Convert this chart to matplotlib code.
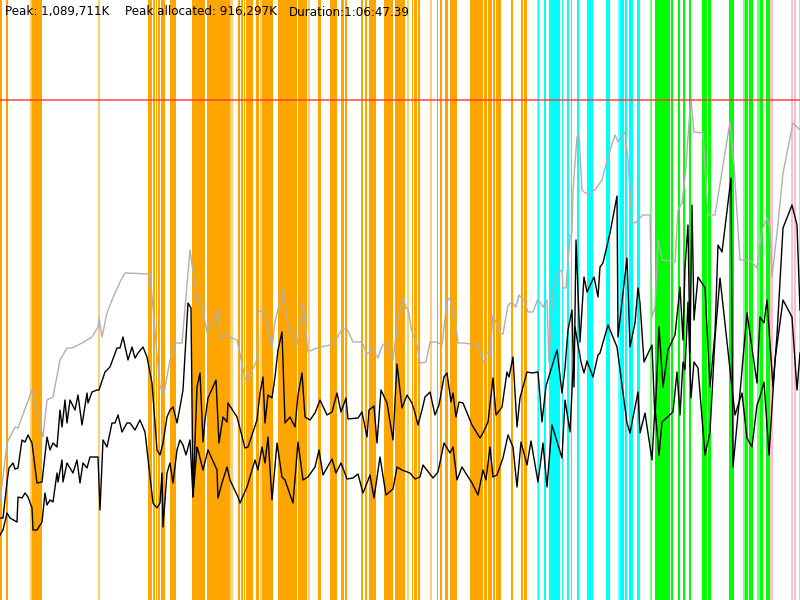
import numpy as np
import matplotlib
matplotlib.use('Agg')
import matplotlib.pyplot as plt

# memory timeline, time in sample units, memory in chart units (red line = peak)
peak_level = 500

# gray: peak memory per sample
peak_t = [0, 7, 15, 18, 22, 32, 43, 47, 53, 60, 67, 72, 82, 92, 98, 99, 102, 107, 112, 120,
          125, 150, 160, 164, 170, 175, 182, 190, 197, 201, 207, 218, 220, 225, 237, 245, 248, 257, 258, 263,
          268, 272, 275, 283, 288, 297, 303, 308, 317, 330, 337, 342, 347, 353, 362, 367, 372, 378, 382, 385,
          393, 398, 403, 406, 408, 412, 417, 420, 426, 430, 437, 442, 447, 450, 453, 455, 458, 463, 478, 482,
          484, 487, 490, 493, 500, 503, 508, 512, 516, 519, 524, 528, 533, 538, 543, 547, 549, 553, 558, 562,
          563, 566, 570, 572, 573, 577, 579, 582, 584, 588, 595, 602, 608, 615, 618, 625, 628, 632, 635, 643,
          650, 652, 655, 658, 662, 675, 678, 682, 686, 689, 691, 694, 703, 708, 715, 719, 730, 734, 740, 750,
          757, 762, 767, 770, 772, 777, 783, 793, 798, 800]
peak_mem = [99, 157, 173, 172, 183, 210, 163, 200, 203, 240, 252, 252, 257, 263, 273, 282, 263, 287, 300, 318,
            327, 326, 213, 207, 240, 257, 257, 350, 300, 300, 268, 290, 262, 265, 260, 222, 220, 240, 288, 290,
            275, 252, 278, 312, 275, 255, 297, 248, 252, 255, 262, 271, 271, 258, 258, 246, 251, 242, 254, 257,
            240, 280, 303, 292, 291, 268, 255, 237, 238, 258, 258, 255, 299, 302, 285, 282, 257, 257, 255, 240,
            238, 247, 245, 285, 267, 266, 295, 298, 293, 305, 300, 288, 288, 301, 293, 300, 238, 310, 328, 330,
            312, 312, 363, 367, 410, 463, 465, 410, 408, 406, 410, 420, 443, 465, 458, 468, 440, 378, 377, 385,
            385, 283, 293, 360, 340, 338, 390, 397, 433, 477, 500, 468, 467, 385, 385, 410, 478, 435, 340, 340,
            332, 370, 382, 373, 323, 367, 427, 477, 472, 470]

# black: upper series
upper_t = [0, 3, 7, 9, 13, 15, 18, 22, 25, 28, 32, 37, 42, 47, 50, 53, 57, 60, 62, 65,
           67, 70, 75, 78, 82, 87, 88, 92, 97, 99, 105, 110, 117, 120, 123, 128, 132, 135, 138, 143,
           147, 152, 157, 160, 163, 167, 170, 173, 177, 180, 183, 188, 191, 193, 197, 200, 203, 205, 208, 216,
           219, 223, 227, 228, 237, 245, 248, 257, 260, 263, 265, 268, 272, 275, 278, 282, 285, 290, 295, 298,
           302, 305, 310, 315, 320, 327, 332, 337, 341, 346, 348, 358, 362, 367, 369, 374, 377, 381, 387, 393,
           397, 402, 407, 412, 415, 418, 422, 425, 430, 435, 439, 444, 447, 451, 453, 456, 459, 463, 472, 480,
           483, 488, 493, 496, 502, 507, 509, 513, 517, 520, 527, 532, 538, 542, 546, 553, 557, 562, 565, 568,
           572, 574, 576, 580, 584, 587, 594, 598, 600, 603, 610, 617, 618, 627, 630, 635, 638, 640, 644, 652,
           655, 659, 663, 668, 675, 680, 683, 685, 688, 690, 692, 694, 698, 705, 710, 715, 718, 722, 731, 733,
           740, 747, 757, 760, 764, 767, 773, 777, 783, 792, 797, 800]
upper_mem = [82, 82, 118, 132, 137, 131, 132, 160, 158, 165, 157, 117, 118, 163, 150, 157, 153, 190, 173, 200,
             177, 200, 190, 205, 175, 207, 197, 208, 210, 210, 228, 233, 252, 252, 263, 240, 253, 242, 247, 253,
             243, 217, 150, 145, 157, 183, 190, 193, 177, 193, 210, 297, 292, 103, 213, 227, 158, 180, 202, 220,
             157, 183, 178, 197, 183, 152, 153, 180, 207, 223, 177, 205, 202, 223, 250, 268, 177, 183, 173, 205,
             227, 183, 180, 187, 200, 185, 188, 207, 188, 202, 181, 182, 188, 163, 190, 194, 157, 210, 197, 160,
             236, 192, 205, 197, 187, 175, 190, 203, 208, 185, 195, 223, 227, 198, 207, 183, 198, 197, 175, 162,
             167, 178, 222, 185, 193, 228, 223, 243, 173, 202, 228, 227, 228, 178, 214, 237, 250, 207, 232, 270,
             290, 213, 360, 258, 323, 308, 323, 303, 333, 337, 367, 404, 263, 342, 253, 277, 312, 297, 238, 255,
             180, 273, 213, 250, 265, 313, 260, 333, 375, 247, 395, 280, 323, 312, 213, 267, 355, 348, 422, 133,
             207, 287, 217, 283, 277, 300, 213, 265, 372, 395, 375, 290]

# black: lower series
lower_t = [0, 3, 7, 10, 17, 18, 22, 25, 28, 32, 33, 37, 42, 45, 47, 50, 53, 57, 58, 62,
           63, 67, 70, 73, 77, 80, 83, 87, 90, 95, 98, 100, 103, 107, 112, 115, 118, 122, 127, 130,
           135, 140, 145, 153, 157, 160, 162, 163, 167, 170, 173, 177, 180, 183, 186, 190, 193, 197, 198, 203,
           208, 217, 218, 222, 227, 230, 238, 240, 247, 255, 258, 262, 265, 268, 272, 277, 282, 285, 293, 298,
           303, 308, 315, 319, 323, 332, 336, 341, 347, 353, 358, 363, 367, 370, 374, 380, 386, 393, 397, 402,
           410, 415, 420, 423, 433, 438, 444, 450, 453, 457, 462, 465, 472, 478, 483, 486, 490, 493, 497, 503,
           508, 513, 517, 521, 527, 531, 538, 543, 547, 552, 562, 565, 570, 572, 575, 581, 584, 587, 593, 598,
           600, 608, 617, 627, 630, 638, 640, 645, 652, 655, 659, 662, 673, 677, 680, 683, 685, 688, 691, 694,
           698, 705, 710, 715, 720, 735, 742, 747, 752, 757, 760, 764, 769, 775, 783, 792, 797, 800]
lower_mem = [65, 70, 87, 82, 78, 103, 102, 107, 103, 92, 70, 70, 78, 107, 95, 100, 98, 127, 118, 140,
             118, 137, 132, 127, 140, 117, 137, 132, 143, 143, 143, 90, 160, 153, 177, 177, 185, 168, 177, 177,
             170, 180, 168, 97, 92, 97, 127, 73, 127, 137, 117, 150, 160, 155, 145, 160, 103, 153, 150, 130,
             150, 130, 102, 117, 133, 120, 103, 97, 113, 140, 130, 153, 137, 163, 100, 157, 123, 120, 97, 158,
             120, 123, 133, 150, 125, 141, 127, 137, 121, 122, 126, 107, 117, 125, 102, 143, 105, 111, 133, 130,
             127, 121, 123, 135, 122, 128, 157, 147, 153, 120, 133, 128, 117, 105, 130, 120, 153, 123, 125, 142,
             165, 153, 113, 158, 135, 159, 118, 157, 113, 175, 142, 200, 168, 210, 273, 238, 227, 239, 223, 245,
             247, 275, 253, 177, 167, 208, 167, 187, 140, 193, 145, 178, 188, 228, 185, 238, 230, 298, 202, 238,
             232, 145, 168, 262, 322, 185, 207, 162, 153, 195, 203, 218, 145, 240, 300, 283, 210, 247]

# activity phases: (start, end, light)
orange_spans = [(0, 2, 0), (6, 8, 0), (30, 32, 1), (32, 42, 0), (98, 100, 1), (148, 152, 0), (153, 155, 0),
                (155.5, 157, 0), (158, 159.5, 0), (161, 165, 0), (170, 176, 0), (192, 205, 0),
                (207, 230, 0), (230, 233, 1), (238, 240, 0), (241, 243, 0), (244, 245, 0),
                (246, 253, 0), (256, 259, 0), (260, 262, 1), (262, 273, 0), (278, 297, 0), (298, 307, 0),
                (308, 310, 1), (318, 321, 0), (330, 337, 0), (341, 344, 0), (345, 347, 0), (361, 363, 0),
                (365, 367, 0), (369, 376, 0), (384, 393, 0), (395, 405, 0), (407, 409, 1), (412, 413, 0),
                (414, 417, 0), (418, 420, 0), (430, 432, 1), (437, 438, 0), (440, 442, 0), (445, 448, 0),
                (450, 457, 0), (470, 483, 0), (484, 487, 0), (488, 492, 0), (493, 495, 0), (496, 501, 0),
                (511, 513, 0), (521, 523, 0), (524, 527, 0), (537, 538, 1)]
cyan_spans = [(538, 539, 0), (544, 546, 0), (549, 560, 0), (562, 563, 0), (567, 569, 0), (571, 572, 0),
              (577, 579, 0), (587, 593, 0), (606, 610, 0), (618, 620, 1), (620, 624, 0), (625, 627, 0),
              (629, 633, 0), (637, 640, 0)]
green_spans = [(650, 652, 1), (655, 670, 0), (671, 673, 0), (678, 680, 0), (683, 685, 0), (689, 691, 0),
               (702, 707, 0), (708, 711, 0), (729, 734, 0), (743, 745, 1), (745, 748, 0), (749, 753, 0),
               (757, 760, 1), (760, 763, 0), (766, 770, 0)]
pink_spans = [(770, 773, 0), (791, 793, 0), (794, 796, 0), (799, 800, 0)]

fig = plt.figure(figsize=(8, 6), dpi=100)
ax = fig.add_axes([0, 0, 1, 1])
ax.set_xlim(0, 800)
ax.set_ylim(0, 600)
ax.axis('off')

for spans, col in [(orange_spans, '#FFA500'), (cyan_spans, '#00FFFF'),
                   (green_spans, '#00FF00'), (pink_spans, '#FFC0CB')]:
    for a, b, light in spans:
        ax.axvspan(a, b, color=col, alpha=0.55 if light else 1.0, lw=0)

ax.plot(peak_t, peak_mem, color='#b0b0b0', lw=1.0)
ax.plot(upper_t, upper_mem, color='black', lw=1.0)
ax.plot(lower_t, lower_mem, color='black', lw=1.0)
ax.axhline(peak_level, color='#ff3030', alpha=0.75, lw=1.3)

ax.text(5, 588, 'Peak: 1,089,711K', fontsize=8.6, va='center')
ax.text(125, 588, 'Peak allocated: 916,297K', fontsize=8.6, va='center')
ax.text(289, 588, 'Duration:1:06:47.39', fontsize=8.6, va='center')

fig.savefig('out.png', dpi=100)
